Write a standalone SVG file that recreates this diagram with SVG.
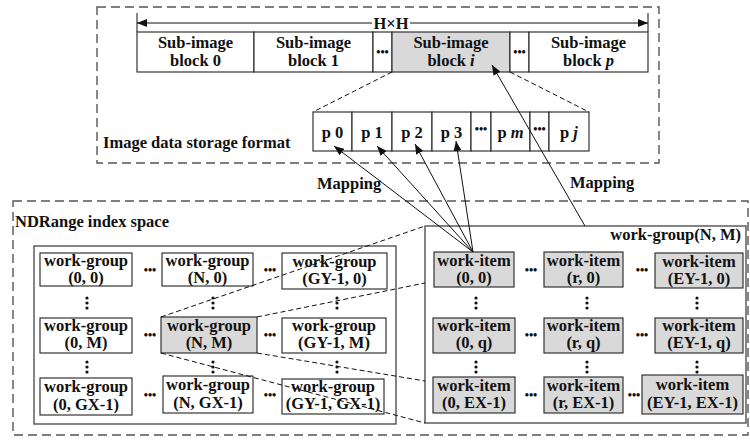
<svg xmlns="http://www.w3.org/2000/svg" width="750" height="443" viewBox="0 0 750 443">
  <style>
    text { font-family: "Liberation Serif", "Times New Roman", serif; font-weight: bold; font-size: 16.5px; fill: #111; }
    .c { text-anchor: middle; }
    .dots { font-size: 12px; text-anchor: middle; }
    .frame { fill: none; stroke: #555; stroke-width: 1.4; stroke-dasharray: 9 5; }
    .panel { fill: #fff; stroke: #444; stroke-width: 1.3; }
    .box { fill: #fff; stroke: #222; stroke-width: 1.1; }
    .hl { fill: #d9d9d9; stroke: #222; stroke-width: 1.1; }
    .guide { fill: none; stroke: #111; stroke-width: 1; stroke-dasharray: 5 3; }
    .arrow { fill: none; stroke: #111; stroke-width: 1; marker-end: url(#head); }
    .vdots circle { fill: #111; }
  </style>
  <defs>
    <marker id="head" markerUnits="userSpaceOnUse" markerWidth="10" markerHeight="8" refX="10" refY="4" orient="auto">
      <path d="M0,0 L10,4 L0,8 z" fill="#111"/>
    </marker>
    <g id="vd" class="vdots">
      <circle cx="0" cy="0" r="1.6"/>
      <circle cx="0" cy="5" r="1.6"/>
      <circle cx="0" cy="10" r="1.6"/>
    </g>
  </defs>

  <!-- Outer frames -->
  <rect class="frame" x="97" y="7" width="562" height="156"/>
  <rect class="frame" x="13" y="201" width="735" height="234"/>

  <!-- Image size span H×H -->
  <g id="span">
    <line x1="137" y1="13" x2="137" y2="32" stroke="#111" stroke-width="1"/>
    <line x1="648" y1="13" x2="648" y2="32" stroke="#111" stroke-width="1"/>
    <line x1="372" y1="23" x2="137" y2="23" class="arrow"/>
    <line x1="410" y1="23" x2="648" y2="23" class="arrow"/>
    <text class="c" x="391" y="29">H×H</text>
  </g>

  <!-- Sub-image blocks -->
  <g id="block-0"><rect class="box" x="137" y="32" width="117" height="40"/>
    <text class="c" x="195.5" y="48">Sub-image<tspan x="195.5" dy="18">block 0</tspan></text></g>
  <g id="block-1"><rect class="box" x="254" y="32" width="119" height="40"/>
    <text class="c" x="313.5" y="48">Sub-image<tspan x="313.5" dy="18">block 1</tspan></text></g>
  <g id="block-gap1"><rect class="box" x="373" y="32" width="19" height="40"/>
    <text class="dots" x="382.5" y="56">•••</text></g>
  <g id="block-i"><rect class="hl" x="392" y="32" width="118" height="40"/>
    <text class="c" x="451" y="48">Sub-image<tspan x="451" dy="18">block <tspan font-style="italic">i</tspan></tspan></text></g>
  <g id="block-gap2"><rect class="box" x="510" y="32" width="19" height="40"/>
    <text class="dots" x="519.5" y="56">•••</text></g>
  <g id="block-p"><rect class="box" x="529" y="32" width="119" height="40"/>
    <text class="c" x="588.5" y="48">Sub-image<tspan x="588.5" dy="18">block <tspan font-style="italic">p</tspan></tspan></text></g>

  <!-- Pixel storage row -->
  <text x="103" y="148">Image data storage format</text>
  <g id="p0"><rect class="box" x="313" y="112" width="39" height="39"/><text class="c" x="332.5" y="138">p 0</text></g>
  <g id="p1"><rect class="box" x="352" y="112" width="40" height="39"/><text class="c" x="372" y="138">p 1</text></g>
  <g id="p2"><rect class="box" x="392" y="112" width="40" height="39"/><text class="c" x="412" y="138">p 2</text></g>
  <g id="p3"><rect class="box" x="432" y="112" width="39" height="39"/><text class="c" x="451.5" y="138">p 3</text></g>
  <g id="pgap1"><rect class="box" x="471" y="112" width="20" height="39"/><text class="dots" x="481" y="133">•••</text></g>
  <g id="pm"><rect class="box" x="491" y="112" width="39" height="39"/><text class="c" x="510.5" y="138">p <tspan font-style="italic">m</tspan></text></g>
  <g id="pgap2"><rect class="box" x="530" y="112" width="19" height="39"/><text class="dots" x="539.5" y="133">•••</text></g>
  <g id="pj"><rect class="box" x="549" y="112" width="40" height="39"/><text class="c" x="569" y="138">p <tspan font-style="italic">j</tspan></text></g>

  <text x="317" y="189">Mapping</text>
  <text x="570" y="188">Mapping</text>

  <!-- NDRange index space -->
  <text x="15" y="227">NDRange index space</text>
  <rect class="panel" x="34" y="246" width="362" height="178"/>

  <g id="wg-0-0"><rect class="box" x="40" y="253" width="92" height="33"/>
    <text class="c" x="86" y="266">work-group<tspan x="86" dy="16.5">(0, 0)</tspan></text></g>
  <g id="wg-N-0"><rect class="box" x="162" y="253" width="91" height="33"/>
    <text class="c" x="207.5" y="266">work-group<tspan x="207.5" dy="16.5">(N, 0)</tspan></text></g>
  <g id="wg-GY-0"><rect class="box" x="282" y="253" width="105" height="36"/>
    <text class="c" x="334.5" y="267">work-group<tspan x="334.5" dy="17">(GY-1, 0)</tspan></text></g>

  <g id="wg-0-M"><rect class="box" x="40" y="318" width="92" height="35"/>
    <text class="c" x="86" y="331">work-group<tspan x="86" dy="17">(0, M)</tspan></text></g>
  <g id="wg-N-M"><rect class="hl" x="161" y="317" width="96" height="36"/>
    <text class="c" x="209" y="331">work-group<tspan x="209" dy="17">(N, M)</tspan></text></g>
  <g id="wg-GY-M"><rect class="box" x="282" y="318" width="104" height="35"/>
    <text class="c" x="334" y="331">work-group<tspan x="334" dy="17">(GY-1, M)</tspan></text></g>

  <g id="wg-0-GX"><rect class="box" x="40" y="378" width="92" height="37"/>
    <text class="c" x="86" y="392">work-group<tspan x="86" dy="18">(0, GX-1)</tspan></text></g>
  <g id="wg-N-GX"><rect class="box" x="163" y="376" width="90" height="37"/>
    <text class="c" x="208" y="390">work-group<tspan x="208" dy="18">(N, GX-1)</tspan></text></g>
  <g id="wg-GY-GX"><rect class="box" x="282" y="379" width="102" height="35"/>
    <text class="c" x="333" y="392">work-group<tspan x="333" dy="17">(GY-1, GX-1)</tspan></text></g>

  <!-- ellipses in the work-group grid -->
  <g id="wg-dots">
    <text class="dots" x="150" y="274">•••</text>
    <text class="dots" x="270" y="274">•••</text>
    <text class="dots" x="150" y="339">•••</text>
    <text class="dots" x="270" y="339">•••</text>
    <text class="dots" x="150" y="399">•••</text>
    <text class="dots" x="270" y="399">•••</text>
    <use href="#vd" x="87" y="298"/>
    <use href="#vd" x="213" y="298"/>
    <use href="#vd" x="337" y="298"/>
    <use href="#vd" x="87" y="362"/>
    <use href="#vd" x="213" y="362"/>
    <use href="#vd" x="337" y="362"/>
  </g>

  <!-- Work-group (N, M) detail -->
  <rect class="panel" x="425" y="226" width="321" height="197"/>
  <text x="741" y="240" text-anchor="end">work-group(N, M)</text>

  <g id="wi-0-0"><rect class="hl" x="434" y="252" width="80" height="35"/>
    <text class="c" x="474" y="266">work-item<tspan x="474" dy="16.5">(0, 0)</tspan></text></g>
  <g id="wi-r-0"><rect class="hl" x="544" y="252" width="79" height="35"/>
    <text class="c" x="583.5" y="266">work-item<tspan x="583.5" dy="16.5">(r, 0)</tspan></text></g>
  <g id="wi-EY-0"><rect class="hl" x="655" y="253" width="88" height="35"/>
    <text class="c" x="699" y="267">work-item<tspan x="699" dy="16.5">(EY-1, 0)</tspan></text></g>

  <g id="wi-0-q"><rect class="hl" x="433" y="318" width="82" height="35"/>
    <text class="c" x="474" y="331">work-item<tspan x="474" dy="17">(0, q)</tspan></text></g>
  <g id="wi-r-q"><rect class="hl" x="544" y="318" width="79" height="35"/>
    <text class="c" x="583.5" y="331">work-item<tspan x="583.5" dy="17">(r, q)</tspan></text></g>
  <g id="wi-EY-q"><rect class="hl" x="655" y="318" width="88" height="35"/>
    <text class="c" x="699" y="331">work-item<tspan x="699" dy="17">(EY-1, q)</tspan></text></g>

  <g id="wi-0-EX"><rect class="hl" x="433" y="377" width="82" height="36"/>
    <text class="c" x="474" y="391">work-item<tspan x="474" dy="17">(0, EX-1)</tspan></text></g>
  <g id="wi-r-EX"><rect class="hl" x="544" y="377" width="79" height="36"/>
    <text class="c" x="583.5" y="391">work-item<tspan x="583.5" dy="17">(r, EX-1)</tspan></text></g>
  <g id="wi-EY-EX"><rect class="hl" x="642" y="375" width="101" height="39"/>
    <text class="c" x="692.5" y="390">work-item<tspan x="692.5" dy="18">(EY-1, EX-1)</tspan></text></g>

  <!-- ellipses in the work-item grid -->
  <g id="wi-dots">
    <text class="dots" x="531" y="274">•••</text>
    <text class="dots" x="642" y="274">•••</text>
    <text class="dots" x="531" y="339">•••</text>
    <text class="dots" x="642" y="339">•••</text>
    <text class="dots" x="531" y="399">•••</text>
    <text class="dots" x="634" y="399">•••</text>
    <use href="#vd" x="476" y="298"/>
    <use href="#vd" x="587" y="298"/>
    <use href="#vd" x="697" y="298"/>
    <use href="#vd" x="476" y="362"/>
    <use href="#vd" x="587" y="362"/>
    <use href="#vd" x="697" y="362"/>
  </g>

  <!-- Connectors -->
  <g id="connectors">
    <line class="guide" x1="392" y1="72" x2="313" y2="112"/>
    <line class="guide" x1="510" y1="72" x2="589" y2="112"/>
    <line class="guide" x1="161" y1="317" x2="425" y2="226"/>
    <line class="guide" x1="257" y1="317" x2="425" y2="283"/>
    <line class="guide" x1="161" y1="353" x2="425" y2="423"/>
    <line class="guide" x1="257" y1="353" x2="425" y2="381"/>
    <line class="arrow" x1="473" y1="252" x2="334" y2="146"/>
    <line class="arrow" x1="473" y1="252" x2="377" y2="146"/>
    <line class="arrow" x1="473" y1="252" x2="415" y2="144"/>
    <line class="arrow" x1="473" y1="252" x2="456" y2="141"/>
    <line class="arrow" x1="585" y1="226" x2="492" y2="65"/>
  </g>
</svg>
